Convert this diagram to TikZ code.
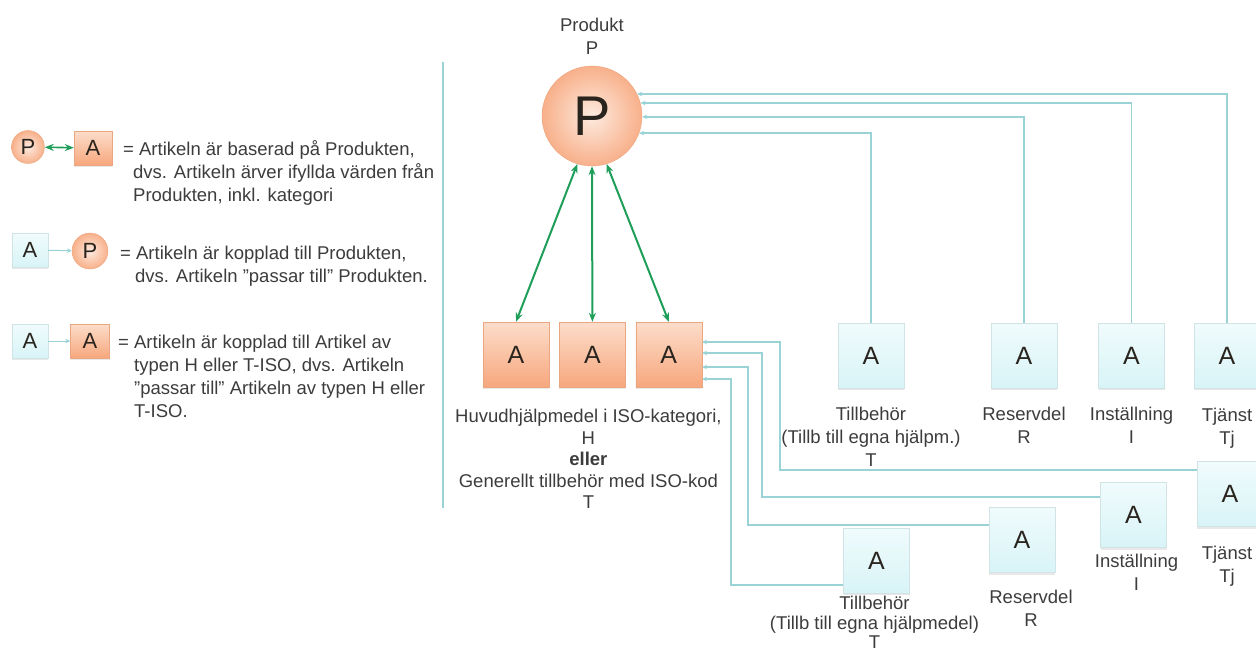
\documentclass[tikz,border=0pt]{standalone}
\usepackage{fontspec}
\setmainfont{Liberation Sans}
\usetikzlibrary{arrows.meta,positioning,shadows}
\definecolor{peach}{HTML}{FCDDCA}
\definecolor{peachdark}{HTML}{F7A77D}
\definecolor{peachline}{HTML}{EAA680}
\definecolor{ice}{HTML}{F0FBFC}
\definecolor{icedark}{HTML}{D8F4F7}
\definecolor{iceline}{HTML}{D0E4E6}
\definecolor{wire}{HTML}{9AD3D6}
\definecolor{leaf}{HTML}{1E9E58}
\definecolor{ink}{HTML}{3C3C3C}
\definecolor{glyph}{HTML}{2A241E}

\begin{document}
\begin{tikzpicture}[x=1pt,y=-1pt,
  txt/.style={font=\fontsize{18.5}{23}\selectfont,text=ink,inner sep=0pt},
  lbl/.style={txt,align=center},
  hart/.style={draw=peachline,top color=peach,bottom color=peachdark,minimum width=66pt,minimum height=65pt,
    font=\fontsize{25}{25}\selectfont,text=glyph,drop shadow={opacity=.18,shadow xshift=0pt,shadow yshift=-2pt}},
  art/.style={draw=iceline,top color=ice,bottom color=icedark,minimum width=66pt,minimum height=65pt,
    font=\fontsize{25}{25}\selectfont,text=glyph,drop shadow={opacity=.18,shadow xshift=0pt,shadow yshift=-2pt}},
  prod/.style={circle,draw=peachline,inner color=peach!60,outer color=peachdark!90,text=glyph,inner sep=0pt},
  small/.style={minimum width=36pt,minimum height=34pt,font=\fontsize{22}{22}\selectfont},
  conn/.style={draw=wire,line width=1.8pt,-{Stealth[length=5pt,width=4.5pt]}},
  inh/.style={draw=leaf,line width=2pt,{Stealth[length=9pt,width=7pt]}-{Stealth[length=9pt,width=7pt]}},
  sep/.style={draw=wire,line width=1.4pt}
]
\useasboundingbox (0,0) rectangle (1256,657);
\clip (0,0) rectangle (1256,657);

% legend
\node[prod,minimum size=33pt,font=\fontsize{22}{22}\selectfont] (lp1) at (28,147) {P};
\node[hart,small,minimum width=38pt] (la1) at (93,148) {A};
\draw[inh,line width=1.6pt] (lp1) -- (la1);
\node[txt,anchor=north west,align=left] (lt1) at (133,140)
  {\hspace*{-10pt}= Artikeln är baserad på Produkten,\\dvs. Artikeln ärver ifyllda värden från\\Produkten, inkl. kategori};

\node[art,small] (la2) at (30,250) {A};
\node[prod,minimum size=36pt,font=\fontsize{22}{22}\selectfont] (lp2) at (90,251) {P};
\draw[conn,line width=1pt] (la2) -- (lp2);
\node[txt,anchor=north west,align=left] (lt2) at (135,246)
  {\hspace*{-15pt}= Artikeln är kopplad till Produkten,\\dvs. Artikeln ”passar till” Produkten.};

\node[art,small] (la3) at (30,341) {A};
\node[hart,small,minimum width=39pt] (lh3) at (90,341) {A};
\draw[conn,line width=1pt] (la3) -- (lh3);
\node[txt,anchor=north west,align=left] (lt3) at (134,335)
  {\hspace*{-16pt}= Artikeln är kopplad till Artikel av\\typen H eller T-ISO, dvs. Artikeln\\”passar till” Artikeln av typen H eller\\T-ISO.};

\draw[sep] (443,62) -- (443,508);

% produkt
\node[prod,minimum size=100pt,font=\fontsize{56}{56}\selectfont] (P) at (592,116) {P};
\node[lbl,above=11pt of P] (ptitle) {Produkt\\P};

% huvudhjalpmedel
\node[hart] (h1) at (516,354.5) {A};
\node[hart,right=10pt of h1] (h2) {A};
\node[hart,right=10pt of h2] (h3) {A};
\node[lbl,font=\fontsize{18.5}{21.5}\selectfont,below=22pt of h2,xshift=-4pt] (hlbl)
  {Huvudhjälpmedel i ISO-kategori,\\H\\\textbf{eller}\\Generellt tillbehör med ISO-kod\\T};
\draw[inh] (P.-107) -- (h1.north);
\draw[inh] (P.south) -- (h2.north);
\draw[inh] (P.-73) -- (h3.north);

% artiklar kopplade till produkten
\node[art] (t1) at (871,355.5) {A};
\node[art] (r1) at (1024,355.5) {A};
\node[art] (i1) at (1131.5,355.5) {A};
\node[art] (tj1) at (1227,355.5) {A};
\node[lbl,below=19pt of t1] {Tillbehör\\(Tillb till egna hjälpm.)\\T};
\node[lbl,below=19pt of r1] {Reservdel\\R};
\node[lbl,below=19pt of i1] {Inställning\\I};
\node[lbl,below=20pt of tj1] {Tjänst\\Tj};
\draw[conn] (t1.north) |- (P.-20);
\draw[conn] (r1.north) |- (P.-1);
\draw[conn] (i1.north) |- (P.15);
\draw[conn] (tj1.north) |- (P.26);

% artiklar kopplade till H / T-ISO
\node[art] (tj2) at (1230,494) {A};
\node[art] (i2) at (1133.5,515) {A};
\node[art] (r2) at (1022,540) {A};
\node[art] (t2) at (876.5,560.5) {A};
\node[lbl,below=19pt of tj2,xshift=-3pt] {Tjänst\\Tj};
\node[lbl,below=6pt of i2,xshift=3pt] {Inställning\\I};
\node[lbl,below=17pt of r2,xshift=9pt] {Reservdel\\R};
\node[lbl,font=\fontsize{18.5}{19.5}\selectfont,below=3pt of t2,xshift=-2pt] {Tillbehör\\(Tillb till egna hjälpmedel)\\T};
\draw[conn] ([yshift=-9pt]tj2.north west) -| ([xshift=78pt,yshift=12.5pt]h3.east) -- ([yshift=12.5pt]h3.east);
\draw[conn] ([yshift=-14.5pt]i2.north west) -| ([xshift=60pt,yshift=1.5pt]h3.east) -- ([yshift=1.5pt]h3.east);
\draw[conn] ([yshift=-17.5pt]r2.north west) -| ([xshift=46pt,yshift=-12.5pt]h3.east) -- ([yshift=-12.5pt]h3.east);
\draw[conn] ([yshift=-57pt]t2.north west) -| ([xshift=29pt,yshift=-24.5pt]h3.east) -- ([yshift=-24.5pt]h3.east);
\end{tikzpicture}
\end{document}
